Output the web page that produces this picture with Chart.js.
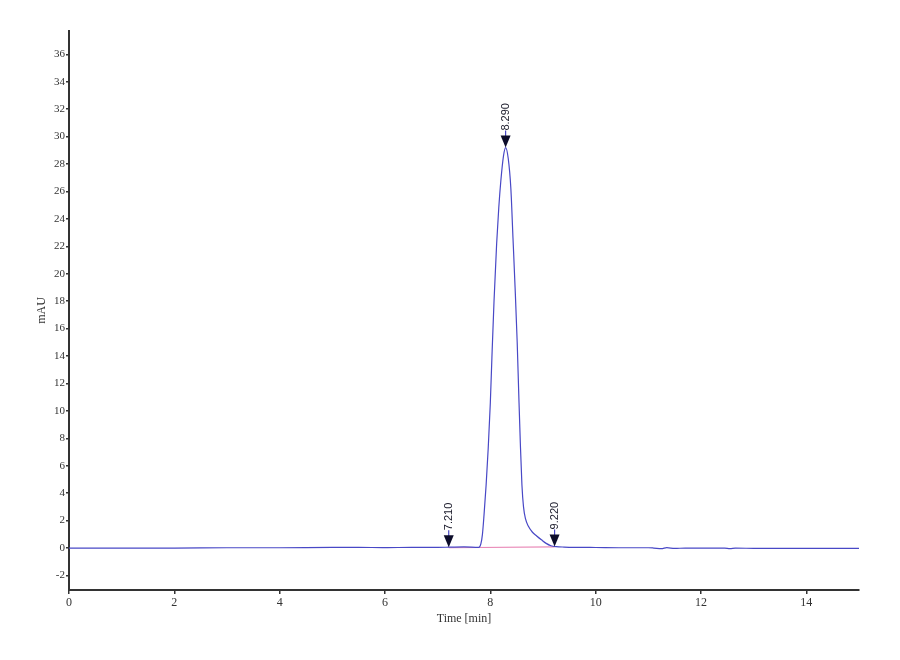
<!DOCTYPE html>
<html lang="en">
<head>
    <meta charset="UTF-8">
    <title>Chromatogram</title>
    <script src="https://cdn.jsdelivr.net/npm/chart.js"></script>
    <style>
        html, body { margin: 0; padding: 0; background: #fff; }
        #wrap { width: 900px; height: 660px; }
    </style>
</head>
<body>
    <div id="wrap"><canvas id="chrom" width="900" height="660"></canvas></div>
    <script>
        // signal trace (time in min, signal in mAU)
        const times = [0, 1, 2, 3, 4, 5, 5.5, 6, 6.5, 7, 7.21, 7.5, 7.78,
            7.82, 7.85, 7.88, 7.92, 7.96, 8.0, 8.03, 8.07, 8.12, 8.16, 8.2, 8.25, 8.29,
            8.34, 8.39, 8.43, 8.47, 8.51, 8.54, 8.57, 8.6, 8.63, 8.67, 8.72, 8.8, 8.88,
            8.97, 9.06, 9.15, 9.25, 9.4, 9.7, 10, 10.5, 11, 11.1, 11.25, 11.35, 11.5,
            11.7, 12, 12.45, 12.55, 12.65, 13, 14, 15];
        const signal = [0, 0, 0, 0.02, 0.02, 0.05, 0.05, 0.03, 0.05, 0.05, 0.06, 0.08, 0.05,
            0.3, 1.0, 2.4, 4.6, 7.3, 10.6, 13.9, 18.0, 22.2, 24.8, 26.8, 28.6, 29.2,
            28.4, 26.2, 22.6, 19.0, 15.0, 11.2, 7.6, 4.6, 3.0, 2.1, 1.6, 1.15, 0.88,
            0.6, 0.34, 0.17, 0.1, 0.07, 0.05, 0.04, 0.02, 0.02, 0.0, -0.05, 0.03, -0.03,
            0.0, 0.0, 0.0, -0.05, -0.01, -0.02, -0.03, -0.02];

        // integration baseline
        const baseTimes = [7.21, 9.22];
        const baseValues = [0.02, 0.08];

        // peak markers
        const peakTimes = [7.21, 8.29, 9.22];
        const peakHeights = [0.06, 29.2, 0.12];
        const peakLabels = ['7.210', '8.290', '9.220'];

        const yTicks = [-2, 0, 2, 4, 6, 8, 10, 12, 14, 16, 18, 20, 22, 24, 26, 28, 30, 32, 34, 36];
        const xTicks = [0, 2, 4, 6, 8, 10, 12, 14];

        const lineColor = '#4848c6';

        const markerPlugin = {
            id: 'markers',
            afterDatasetsDraw(chart) {
                const ctx = chart.ctx;
                const xs = chart.scales.x, ys = chart.scales.y;
                peakTimes.forEach((t, i) => {
                    const px = xs.getPixelForValue(t);
                    const py = ys.getPixelForValue(peakHeights[i]);
                    ctx.save();
                    // stem
                    ctx.strokeStyle = lineColor;
                    ctx.lineWidth = 1.2;
                    ctx.beginPath();
                    ctx.moveTo(px, py - 11);
                    ctx.lineTo(px, py - 17);
                    ctx.stroke();
                    // arrow head
                    ctx.fillStyle = '#0c0c2a';
                    ctx.beginPath();
                    ctx.moveTo(px - 5, py - 12);
                    ctx.lineTo(px + 5, py - 12);
                    ctx.lineTo(px, py);
                    ctx.closePath();
                    ctx.fill();
                    // rotated label
                    ctx.translate(px, py - 17);
                    ctx.rotate(-Math.PI / 2);
                    ctx.fillStyle = '#1a1a2a';
                    ctx.font = '11px "Liberation Sans", Arial, sans-serif';
                    ctx.textAlign = 'left';
                    ctx.textBaseline = 'middle';
                    ctx.fillText(peakLabels[i], 0, 0);
                    ctx.restore();
                });
            }
        };

        const ctx = document.getElementById('chrom').getContext('2d');
        const chrom = new Chart(ctx, {
            type: 'line',
            data: {
                datasets: [{
                    label: 'Signal',
                    data: times.map((t, i) => ({ x: t, y: signal[i] })),
                    borderColor: lineColor,
                    borderWidth: 1.2,
                    pointRadius: 0,
                    cubicInterpolationMode: 'monotone',
                    order: 1
                }, {
                    label: 'Baseline',
                    data: baseTimes.map((t, i) => ({ x: t, y: baseValues[i] })),
                    borderColor: '#e98ab8',
                    borderWidth: 1.2,
                    pointRadius: 0,
                    order: 2
                }]
            },
            options: {
                responsive: false,
                animation: false,
                layout: { padding: { top: 31, right: 41, left: 35, bottom: 34 } },
                plugins: {
                    legend: { display: false },
                    tooltip: { enabled: false }
                },
                scales: {
                    x: {
                        type: 'linear',
                        min: 0,
                        max: 15,
                        afterBuildTicks: s => { s.ticks = xTicks.map(v => ({ value: v })); },
                        afterFit: s => { s.height = 36; },
                        border: { display: true, color: '#333', width: 2 },
                        grid: { drawOnChartArea: false, drawTicks: true, tickLength: 4, color: '#333', lineWidth: 1.5 },
                        ticks: {
                            color: '#333',
                            padding: 2,
                            maxRotation: 0,
                            font: { family: '"Liberation Serif", serif', size: 12 }
                        },
                        title: {
                            display: true,
                            text: 'Time [min]',
                            color: '#333',
                            padding: { top: 0, bottom: 0 },
                            font: { family: '"Liberation Serif", serif', size: 12 }
                        }
                    },
                    y: {
                        type: 'linear',
                        min: -3.06,
                        max: 37.7,
                        afterBuildTicks: s => { s.ticks = yTicks.map(v => ({ value: v })); },
                        afterFit: s => { s.width = 34; },
                        border: { display: true, color: '#333', width: 2 },
                        grid: { drawOnChartArea: false, drawTicks: true, tickLength: 3, color: '#333', lineWidth: 1.5 },
                        ticks: {
                            color: '#333',
                            padding: 1,
                            font: { family: '"Liberation Serif", serif', size: 11 }
                        },
                        title: {
                            display: true,
                            text: 'mAU',
                            color: '#333',
                            padding: { top: 0, bottom: 0 },
                            font: { family: '"Liberation Serif", serif', size: 12 }
                        }
                    }
                }
            },
            plugins: [markerPlugin]
        });
    </script>
</body>
</html>
